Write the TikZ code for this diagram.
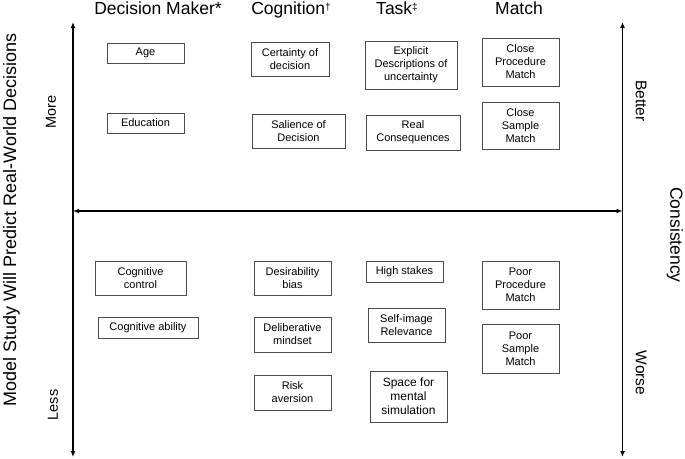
\documentclass[tikz,border=0pt]{standalone}
\usepackage{fontspec}
\setmainfont{Liberation Sans}
\usetikzlibrary{arrows.meta}
\newcommand{\hdmark}[1]{\raisebox{4.5pt}{\fontsize{10}{10}\selectfont #1}}
\begin{document}
\begin{tikzpicture}[x=1pt,y=-1pt,
  box/.style={draw=black!70, line width=0.9pt, inner sep=0pt, align=center,
    font=\fontsize{11}{13}\selectfont},
  bigbox/.style={box, font=\fontsize{12}{14}\selectfont},
  axis/.style={line width=1.4pt, {Latex[length=6pt,width=5pt]}-{Latex[length=6pt,width=5pt]}},
  head/.style={anchor=base, font=\fontsize{17.5}{20}\selectfont},
  side/.style={font=\fontsize{14.5}{16}\selectfont},
  rside/.style={font=\fontsize{15.5}{17}\selectfont, rotate=-90}
]
\useasboundingbox (0,0) rectangle (685,458);

% axes
\coordinate (ltop) at (73,22);
\coordinate (lbot) at (73,457);
\coordinate (rtop) at (622.5,22);
\coordinate (rbot) at (622.5,457);
\coordinate (hl) at (73,211);
\coordinate (hr) at (622.5,211);
\draw[axis] (ltop) -- (lbot);
\draw[axis] (rtop) -- (rbot);
\draw[axis] (hl) -- (hr);

% headers
\node[head] (h1) at (158,14.5) {Decision Maker*};
\node[head] (h2) at (291,14.5) {Cognition\hdmark{†}};
\node[head] (h3) at (397,14.5) {Task\hdmark{‡}};
\node[head] (h4) at (519,14.5) {Match};

% side labels
\node[rotate=90, font=\fontsize{18}{20}\selectfont] (ylab) at (11.5,220) {Model Study Will Predict Real-World Decisions};
\node[side, rotate=90] (more) at (51,112) {More};
\node[side, rotate=90] (less) at (53,405) {Less};
\node[rside] (better) at (641,101) {Better};
\node[rside] (worse) at (641,373) {Worse};
\node[rotate=-90, font=\fontsize{17.5}{20}\selectfont] (cons) at (675,235) {Consistency};

% upper boxes
\node[box, minimum width=77pt, minimum height=20pt] (age) at (145.5,53) {Age};
\node[box, minimum width=77pt, minimum height=20pt] (edu) at (145.5,123) {Education};
\node[box, minimum width=78pt, minimum height=34pt] (cert) at (290,59) {Certainty of\\decision};
\node[box, minimum width=93pt, minimum height=34pt] (sal) at (298.5,131) {Salience of\\Decision};
\node[box, minimum width=92pt, minimum height=48pt] (expl) at (411,65) {Explicit\\Descriptions of\\uncertainty};
\node[box, minimum width=94pt, minimum height=35pt] (real) at (413,132.5) {Real\\Consequences};
\node[box, minimum width=77pt, minimum height=48pt] (cpm) at (520.5,62) {Close\\Procedure\\Match};
\node[box, minimum width=77pt, minimum height=47pt] (csm) at (520.5,125.5) {Close\\Sample\\Match};

% lower boxes
\node[box, minimum width=91pt, minimum height=34pt] (cc) at (140.5,278) {Cognitive\\control};
\node[box, minimum width=100pt, minimum height=21pt] (ca) at (148,327.5) {Cognitive ability};
\node[box, minimum width=77pt, minimum height=34pt] (des) at (292.5,278) {Desirability\\bias};
\node[box, minimum width=77pt, minimum height=35pt] (del) at (292.5,334.5) {Deliberative\\mindset};
\node[box, minimum width=77pt, minimum height=35pt] (risk) at (292.5,392.5) {Risk\\aversion};
\node[box, minimum width=77pt, minimum height=21pt] (high) at (404.5,271.5) {High stakes};
\node[box, minimum width=77pt, minimum height=34pt] (self) at (406.5,325) {Self-image\\Relevance};
\node[bigbox, minimum width=77pt, minimum height=51pt] (space) at (408.5,396.5) {Space for\\mental\\simulation};
\node[box, minimum width=77pt, minimum height=48pt] (ppm) at (520.5,285) {Poor\\Procedure\\Match};
\node[box, minimum width=77pt, minimum height=49pt] (psm) at (520.5,348.5) {Poor\\Sample\\Match};
\end{tikzpicture}
\end{document}
